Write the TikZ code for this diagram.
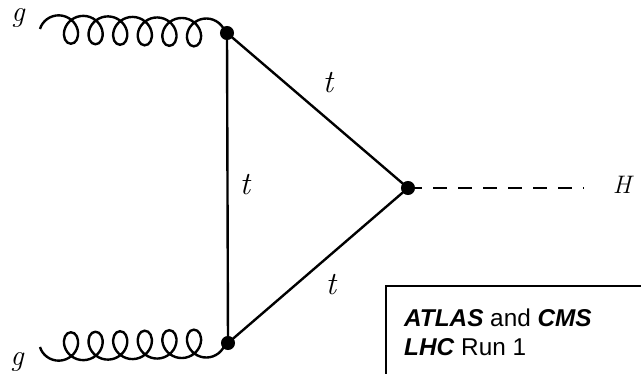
\documentclass[tikz,border=0pt]{standalone}
\usepackage{fontspec}
\newfontfamily\boxfont{Liberation Sans}
\usetikzlibrary{decorations.pathmorphing,positioning}

\begin{document}
\begin{tikzpicture}[
    x=0.025cm, y=-0.025cm,
    line width=1.7pt,
    vertex/.style={circle, fill=black, inner sep=0pt, minimum size=10pt},
    gluon/.style={decorate, decoration={coil, amplitude=10pt, segment length=17.5pt, aspect=0.9}},
    label/.style={anchor=base, inner sep=0pt, font=\itshape\fontsize{23}{26}\selectfont},
    scalar/.style={dash pattern=on 10pt off 7.8pt}
]
\useasboundingbox (0,0) rectangle (641,374);

% vertices
\node[vertex] (v1) at (227,33) {};
\node[vertex] (v2) at (228,343) {};
\node[vertex] (v3) at (408,188) {};

% external ends
\coordinate (g1) at (40,29);
\coordinate (g2) at (40,347);
\coordinate (h) at (584,188);

% gluons
\draw[gluon] (g1) -- (v1.center);
\draw[gluon, decoration={mirror}] (g2) -- (v2.center);

% top loop
\draw (v1.center) -- (v2.center) -- (v3.center) -- cycle;
\draw[scalar] (v3.center) -- (h);

% labels
\node[label, font=\itshape\fontsize{21}{24}\selectfont] (lg1) at (18,22) {g};
\node[label, font=\itshape\fontsize{21}{24}\selectfont] (lg2) at (17,366) {g};
\node[label] (lt1) at (328,93) {t};
\node[label] (lt2) at (245,195) {t};
\node[label] (lt3) at (331,295) {t};
\node[label, font=\itshape\fontsize{18}{20}\selectfont] (lh) at (622,194) {H};

% legend box
\draw[line width=1pt] (386,374) -- (386,286) -- (641,286);
\node[anchor=north west, align=left, inner sep=0pt, font=\boxfont\fontsize{17.3}{20.5}\selectfont] (legend) at (403,308)
    {\textbf{\textit{ATLAS}} and \textbf{\textit{CMS}}\\ \textbf{\textit{LHC}} Run 1};
\end{tikzpicture}
\end{document}
